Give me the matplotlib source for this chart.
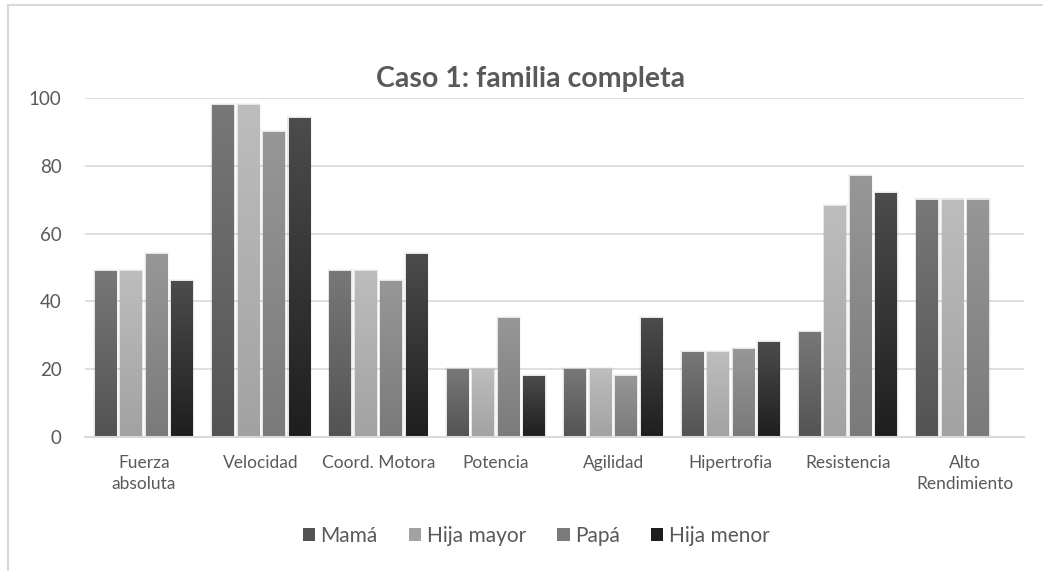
import numpy as np
import matplotlib
matplotlib.use("Agg")
import matplotlib.pyplot as plt
from matplotlib.colors import LinearSegmentedColormap
from matplotlib.patches import Patch, Rectangle

# Data
categories = ["Fuerza\nabsoluta", "Velocidad", "Coord. Motora", "Potencia",
              "Agilidad", "Hipertrofia", "Resistencia", "Alto\nRendimiento"]
mama = [49, 98, 49, 20, 20, 25, 31, 70]
hija_mayor = [49, 98, 49, 20, 20, 25, 68, 70]
papa = [54, 90, 46, 35, 18, 26, 77, 70]
hija_menor = [46, 94, 54, 18, 35, 28, 72, np.nan]

series = [("Mamá", mama), ("Hija mayor", hija_mayor),
          ("Papá", papa), ("Hija menor", hija_menor)]
# (top colour, bottom colour) for the gradient fill of each series
colors = [("#787878", "#535353"), ("#bdbdbd", "#a2a2a2"),
          ("#979797", "#7a7a7a"), ("#4c4c4c", "#1e1e1e")]

plt.rcParams['font.family'] = ['Lato', 'DejaVu Sans']
text_col = "#595959"

fig = plt.figure(figsize=(10.43, 5.71), dpi=100)
ax = fig.add_axes([0.0815, 0.2347, 0.9003, 0.5937])

# chart frame (only top/left visible in the reference)
fig.patches.append(Rectangle((0.0075, -0.1), 1.2, 1.091, transform=fig.transFigure,
                             fill=False, edgecolor="#d9d9d9", lw=1.5))

x = np.arange(len(categories))
width = 0.183
step = 0.217
grad = np.linspace(0, 1, 256).reshape(-1, 1)

for i, (name, vals) in enumerate(series):
    top, bottom = colors[i]
    cmap = LinearSegmentedColormap.from_list(name, [bottom, top])
    offs = (i - 1.5) * step
    # soft shadow behind bars
    for k, a in [(0.03, 0.04), (0.018, 0.06)]:
        sv = [v + k * 20 if np.isfinite(v) else v for v in vals]
        ax.bar(x + offs, sv, width + k, color="#000000", alpha=a,
               zorder=2.5, linewidth=0)
    bars = ax.bar(x + offs, vals, width, color=top, zorder=3)
    for b in bars:
        h = b.get_height()
        if not np.isfinite(h) or h <= 0:
            continue
        x0 = b.get_x()
        im = ax.imshow(grad, cmap=cmap, aspect="auto", origin="lower",
                       extent=[x0, x0 + width, 0, h], zorder=3.5)
        im.set_clip_path(b)

ax.set_xlim(-0.5, len(categories) - 0.5)
ax.set_ylim(0, 100)
ax.set_yticks([0, 20, 40, 60, 80, 100])
ax.set_xticks(x)
ax.set_xticklabels(categories, fontsize=12.5, color=text_col, linespacing=1.4)
ax.tick_params(axis="y", labelsize=13.5, labelcolor=text_col, length=0, pad=17)
ax.tick_params(axis="x", length=0, pad=13)
ax.grid(axis="y", color="#d9d9d9", lw=1.2, zorder=0)
for s in ["top", "right", "left"]:
    ax.spines[s].set_visible(False)
ax.spines["bottom"].set_color("#d9d9d9")
ax.spines["bottom"].set_linewidth(1.5)
ax.spines["bottom"].set_zorder(4)

fig.text(0.509, 0.862, "Caso 1: familia completa", ha="center", va="center",
         fontsize=20.5, fontweight="bold", color=text_col)

handles = [Patch(facecolor=c[1], edgecolor="none") for c in colors]
fig.legend(handles, [s[0] for s in series], loc="center", bbox_to_anchor=(0.514, 0.061),
           ncol=4, frameon=False, fontsize=15, labelcolor=text_col,
           handlelength=0.6, handleheight=0.6, handletextpad=0.25, columnspacing=1.5)

fig.savefig("out.png", dpi=100, facecolor="white")
